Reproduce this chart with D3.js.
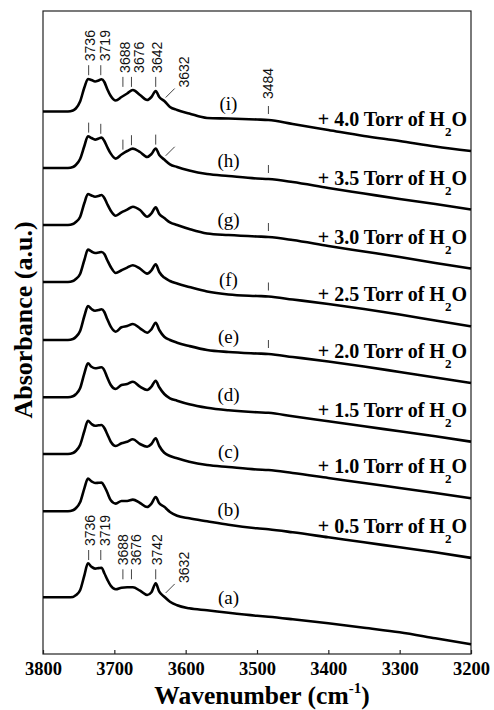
<!DOCTYPE html>
<html>
<head>
<meta charset="utf-8">
<script src="https://cdn.jsdelivr.net/npm/d3@7"></script>
<style>
	body { margin: 0; background: #fff; }
	svg { display: block; }
</style>
</head>
<body>
<div id="chart-area"></div>
<script>
// wavenumber grid (cm-1), shared by every spectrum
const wavenumbers = [3800, 3780, 3765, 3758, 3754, 3748, 3742, 3737, 3732, 3727,
	3722, 3718, 3714, 3710, 3705, 3698, 3690, 3682, 3674, 3664,
	3654, 3648, 3642, 3637, 3630, 3622, 3612, 3595, 3570, 3540,
	3500, 3484, 3450, 3400, 3350, 3300, 3250, 3200]

// absorbance (a.u. x100) relative to each trace's own baseline
const spectrumA = [0, 0, 0, 0.3, 2, 7, 22, 34, 30.5, 28.7, 29.2, 29.6, 24, 18, 11.5, 8, 9.6, 10, 10, 6.6,
	2.3, 5, 14, 5.6, 0.6, -4.4, -8, -11, -13, -15.5, -18.5, -19.5, -22, -26, -30.5, -35, -41, -47]
const spectrumB = [0, 0, 0, 1, 3, 9, 23, 32.7, 30, 28.3, 28.5, 28.7, 25, 19, 11, 7.7, 10.3, 10.3, 11.7, 8.3,
	4.3, 7.7, 14.3, 8, 4.5, -0.7, -4.5, -7, -10, -13.5, -17, -18, -21, -26, -31, -36, -41, -46.6]
const spectrumC = [0, 0, 0, 1, 3, 9, 23, 33.3, 30, 28.3, 28.7, 29, 26, 20, 12.3, 8, 10.7, 12.3, 14.7, 10,
	7.3, 10, 15.7, 8, 1.3, -2, -4.3, -7.7, -11, -13, -15.5, -16, -19, -24, -29, -34, -39, -44.3]
const spectrumD = [0, 0, 0, 1, 3, 9, 24, 34, 30.5, 29, 29.5, 30, 27, 20, 12.3, 8.3, 12.3, 13.3, 15.6, 10.6,
	7.3, 10.6, 16.6, 10, 3.3, -1, -3.4, -7, -10.5, -13, -15, -15.5, -19, -24, -29, -34, -39, -44.4]
const spectrumE = [0, 0, 0, 1, 3, 9, 24, 34, 31, 29.3, 30, 30.7, 28, 21, 13.3, 8.3, 12.7, 14, 16, 11.7,
	7.3, 10.7, 17.3, 10, 3.3, 0, -2.7, -6, -10, -12, -13.5, -14, -17, -21.5, -26.5, -32, -37.5, -43]
const spectrumF = [0, 0, 0, 1, 3, 8, 22, 32.4, 30.5, 29, 29.5, 30, 28, 22, 15, 9, 11.7, 14.4, 16.7, 13.4,
	8.4, 11.7, 17.7, 10, 4.4, 1, -1.6, -5, -9.5, -12.5, -14, -14.5, -17.5, -22, -27, -32.5, -38.5, -44.3]
const spectrumG = [0, 0, 0, 1, 3, 8, 22, 31, 29.5, 28.3, 29, 30, 27, 21, 14.3, 9.3, 12.6, 15.3, 18.3, 15,
	8.3, 11.6, 17.6, 11, 7, 2.6, 0, -4, -8.5, -10, -11.5, -12, -15, -21, -26.5, -32, -38, -43.5]
const spectrumH = [0, 0, 0, 1, 3, 9, 22, 31.7, 30, 28.4, 29.5, 30.4, 27, 21, 14.4, 9.4, 13.5, 17, 19.4, 16,
	11, 14, 19.4, 13, 8.4, 3.7, 1, -2.5, -6, -8, -10.5, -11, -14, -20, -25.5, -31, -36, -41.5]
const spectrumI = [0, 0, 0, 1, 3, 10, 24, 32.5, 31.5, 30, 31, 32.2, 29.5, 22.5, 15.5, 11, 14.5, 18, 21.5, 16.5,
	11.5, 14.5, 20.5, 14.5, 10.5, 4.5, 1.5, -2, -6.5, -7, -8, -8.5, -12.5, -18.5, -24.5, -29.5, -35, -39.5]

const spectra = [spectrumA, spectrumB, spectrumC, spectrumD, spectrumE, spectrumF, spectrumG, spectrumH, spectrumI]
const spectrumIds = ["a", "b", "c", "d", "e", "f", "g", "h", "i"]
// vertical stacking offset of each trace (a.u. x100)
const offsets = [56.7, 142.7, 200, 256.7, 314, 372, 429, 486, 542.5]
// H2O dose for (b)..(i), Torr
const pressures = [null, "0.5", "1.0", "1.5", "2.0", "2.5", "3.0", "3.5", "4.0"]

const xTicks = [3800, 3700, 3600, 3500, 3400, 3300, 3200]

// OH band assignments
const peakPositions = [3736, 3719, 3688, 3676, 3642]
const peakLabelsTop = ["3736", "3719", "3688", "3676", "3642"]
const peakLabelsBottom = ["3736", "3719", "3688", "3676", "3742"]
const shoulderPosition = 3632
const shoulderLabel = "3632"
const waterBand = 3484
const waterBandLabel = "3484"
const waterBandSpectra = ["e", "f", "g", "h", "i"]

const MARGIN = {LEFT: 43, RIGHT: 23, TOP: 11, BOTTOM: 56}
const WIDTH = 494 - MARGIN.LEFT - MARGIN.RIGHT
const HEIGHT = 710 - MARGIN.TOP - MARGIN.BOTTOM

const SERIF = "'Liberation Serif', 'Times New Roman', serif"
const SANS = "'Liberation Sans', Arial, sans-serif"

const svg = d3.select("#chart-area").append("svg")
	.attr("width", WIDTH + MARGIN.LEFT + MARGIN.RIGHT)
	.attr("height", HEIGHT + MARGIN.TOP + MARGIN.BOTTOM)
	.style("background", "#fff")
const g = svg.append("g")
	.attr("transform", `translate(${MARGIN.LEFT}, ${MARGIN.TOP})`)

const x = d3.scaleLinear()
	.domain([3800, 3200])
	.range([0, WIDTH])

const y = d3.scaleLinear()
	.domain([0, 643])
	.range([HEIGHT, 0])

// linear lookup of a trace at a given wavenumber (used to place the marks)
function valueAt(k, wn) {
	const s = spectra[k]
	for (let i = 0; i < wavenumbers.length - 1; i++) {
		const w0 = wavenumbers[i], w1 = wavenumbers[i + 1]
		if (wn <= w0 && wn >= w1) {
			const t = (w0 - wn) / (w0 - w1)
			return s[i] + t * (s[i + 1] - s[i])
		}
	}
	return s[s.length - 1]
}
const curveY = (k, wn) => y(offsets[k] + valueAt(k, wn))

// frame
g.append("rect")
	.attr("width", WIDTH)
	.attr("height", HEIGHT)
	.attr("fill", "none")
	.attr("stroke", "#222")
	.attr("stroke-width", 1.2)

// X axis
const xAxisCall = d3.axisBottom(x)
	.tickValues(xTicks)
	.tickSizeInner(-4)
	.tickSizeOuter(0)
	.tickFormat(d3.format("d"))
const xAxis = g.append("g")
	.attr("class", "x axis")
	.attr("transform", `translate(0, ${HEIGHT})`)
	.call(xAxisCall)
xAxis.select(".domain").remove()
xAxis.selectAll("line").attr("stroke", "#222").attr("stroke-width", 1.2)
xAxis.selectAll("text")
	.attr("y", 21)
	.attr("dy", 0)
	.attr("fill", "#000")
	.attr("font-family", SERIF)
	.attr("font-weight", "bold")
	.attr("font-size", "18.5px")

// X label
const xLabel = g.append("text")
	.attr("x", WIDTH / 2 + 5)
	.attr("y", HEIGHT + 50)
	.attr("text-anchor", "middle")
	.attr("font-family", SERIF)
	.attr("font-weight", "bold")
	.attr("font-size", "25.5px")
	.text("Wavenumber (cm")
xLabel.append("tspan").attr("font-size", "15px").attr("dy", -11).text("-1")
xLabel.append("tspan").attr("dy", 11).text(")")

// Y label
g.append("text")
	.attr("transform", `translate(${32 - MARGIN.LEFT}, ${320 - MARGIN.TOP}) rotate(-90)`)
	.attr("text-anchor", "middle")
	.attr("font-family", SERIF)
	.attr("font-weight", "bold")
	.attr("font-size", "26px")
	.text("Absorbance (a.u.)")

// spectra
const line = d3.line()
	.x((d, i) => x(wavenumbers[i]))
	.y(d => y(d))
	.curve(d3.curveMonotoneX)

spectra.forEach((s, k) => {
	g.append("path")
		.datum(s.map(v => v + offsets[k]))
		.attr("d", line)
		.attr("fill", "none")
		.attr("stroke", "#000")
		.attr("stroke-width", 2.6)
		.attr("stroke-linejoin", "round")

	// (a) .. (i)
	g.append("text")
		.attr("x", x(3540))
		.attr("y", curveY(k, 3540) - 9)
		.attr("text-anchor", "middle")
		.attr("font-family", SERIF)
		.attr("font-size", "19px")
		.text(`(${spectrumIds[k]})`)

	// dose labels on the right
	if (pressures[k]) {
		const t = g.append("text")
			.attr("x", WIDTH - 4)
			.attr("y", curveY(k, 3200) - 25)
			.attr("text-anchor", "end")
			.attr("font-family", SERIF)
			.attr("font-weight", "bold")
			.attr("font-size", "20px")
			.text(`+ ${pressures[k]} Torr of H`)
		t.append("tspan").attr("font-size", "13px").attr("dy", 10).text("2")
		t.append("tspan").attr("dy", -10).text("O")
	}
})

// marks
function tick(x0, y0, x1, y1) {
	g.append("line")
		.attr("x1", x0).attr("y1", y0)
		.attr("x2", x1).attr("y2", y1)
		.attr("stroke", "#444")
		.attr("stroke-width", 1)
}
function vlabel(txt, cx, bottom) {
	g.append("text")
		.attr("transform", `translate(${cx}, ${bottom}) rotate(-90)`)
		.attr("dy", "0.36em")
		.attr("font-family", SANS)
		.attr("font-size", "14px")
		.attr("fill", "#111")
		.text(txt)
}

const peakGroups = [[0, 1], [2, 3, 4]]
function peakMarks(k, labels, dx) {
	peakGroups.forEach(group => {
		const yc = group.map(j => curveY(k, peakPositions[j]))
		group.forEach((j, n) => {
			const px = x(peakPositions[j])
			const bottom = (labels ? d3.min(yc) : yc[n]) - 4
			tick(px, bottom, px, bottom - 10)
			if (labels) vlabel(labels[j], px + dx[j], bottom - 14)
		})
	})
}
function shoulderMark(k, label) {
	const x0 = x(shoulderPosition - 4)
	const y0 = curveY(k, shoulderPosition - 4) - 5
	tick(x0, y0, x0 + 9, y0 - 9)
	if (label) vlabel(label, x0 + 18, y0 - 10)
}

const iIdx = spectrumIds.indexOf("i")
const hIdx = spectrumIds.indexOf("h")
const aIdx = spectrumIds.indexOf("a")

peakMarks(iIdx, peakLabelsTop, [1, 4, 2, 7, 1])
peakMarks(hIdx, null, null)
peakMarks(aIdx, peakLabelsBottom, [1, 4, 0, 4, 1])
shoulderMark(iIdx, shoulderLabel)
shoulderMark(hIdx, null)
shoulderMark(aIdx, shoulderLabel)

waterBandSpectra.forEach(id => {
	const k = spectrumIds.indexOf(id)
	const px = x(waterBand)
	const bottom = curveY(k, waterBand) - 6
	tick(px, bottom, px, bottom - 8)
	if (id == "i") vlabel(waterBandLabel, px, bottom - 15)
})
</script>
</body>
</html>
